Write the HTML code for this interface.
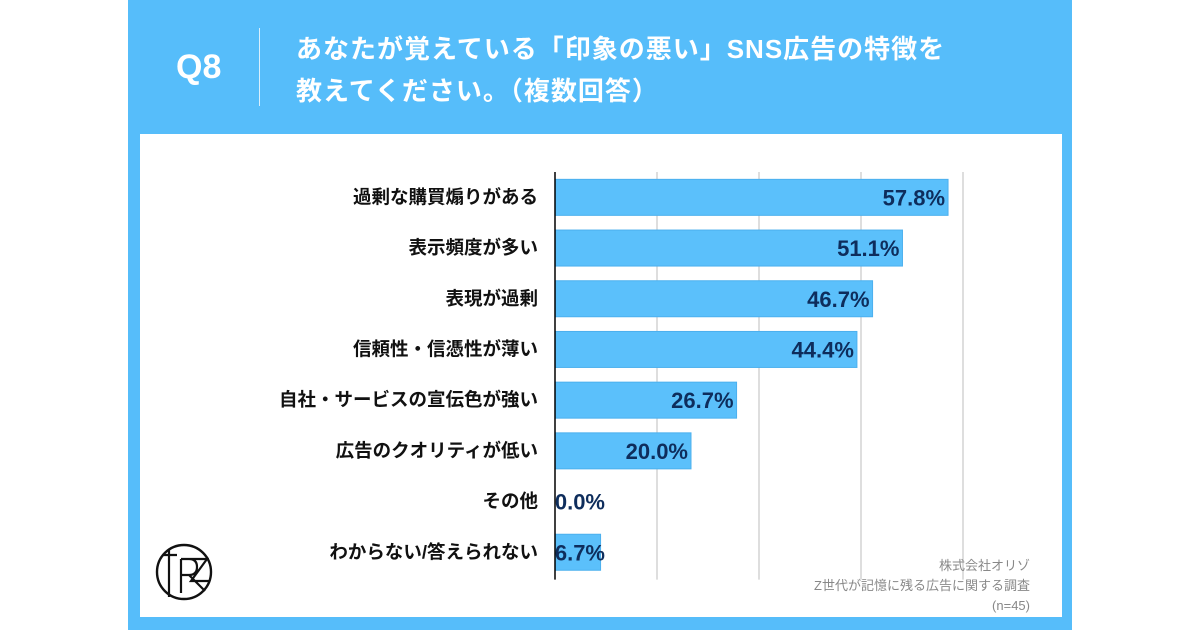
<!DOCTYPE html>
<html><head><meta charset="utf-8">
<style>
body{margin:0;width:1200px;height:630px;background:#fff;position:relative;overflow:hidden;font-family:"Liberation Sans","Noto Sans CJK JP",sans-serif;}
#blue{position:absolute;left:128px;top:0;width:944px;height:630px;background:#56bdfa;}
#inner{position:absolute;left:140px;top:134px;width:922px;height:483px;background:#fff;}
#q{position:absolute;left:176px;top:48px;color:#fff;font-size:34px;font-weight:bold;}
#sep{position:absolute;left:259px;top:28px;width:1px;height:78px;background:#d8effd;}
#title{position:absolute;left:296px;top:28px;color:#fff;font-size:26px;font-weight:bold;line-height:42px;letter-spacing:1px;}
#src{position:absolute;right:170px;top:556px;color:#888;font-size:13px;text-align:right;line-height:20px;}
</style></head><body>
<div id="blue"></div>
<div id="inner"></div>
<div id="q">Q8</div>
<div id="sep"></div>
<div id="title">あなたが覚えている「印象の悪い」SNS広告の特徴を<br>教えてください。（複数回答）</div>
<svg id="chart" width="1200" height="630" style="position:absolute;left:0;top:0"></svg>
<svg width="70" height="70" style="position:absolute;left:149px;top:537px" viewBox="0 0 70 70">
<circle cx="35" cy="35" r="27" fill="none" stroke="#111" stroke-width="2.4"/>
<path d="M14 18 H28 M20 12 V60 M32 22 V56 M32 22 H40 Q48 22 48 30 Q48 38 40 38 H32 M40 38 L56 54 M40 22 H58 L42 44 H60" fill="none" stroke="#111" stroke-width="2.2"/>
</svg>
<div id="src">株式会社オリゾ<br>Z世代が記憶に残る広告に関する調査<br>(n=45)</div>
<script>
const categories=["過剰な購買煽りがある","表示頻度が多い","表現が過剰","信頼性・信憑性が薄い","自社・サービスの宣伝色が強い","広告のクオリティが低い","その他","わからない/答えられない"];
const values=[57.8,51.1,46.7,44.4,26.7,20.0,0.0,6.7];
const tickValues=[15,30,45,60];
const svg=document.getElementById('chart');
const NS='http://www.w3.org/2000/svg';
const x0=555,xMax=60,pxPerUnit=6.8,top0=172,rowH=50.7,barH=36;
const xs=v=>x0+v*pxPerUnit;
const ys=i=>top0+i*rowH;
function mk(t,a){const e=document.createElementNS(NS,t);for(const k in a)e.setAttribute(k,a[k]);svg.appendChild(e);return e;}
const bottom=ys(categories.length)+2;
tickValues.forEach(t=>{const g=mk('line',{x1:xs(t),x2:xs(t),y1:top0,y2:bottom,stroke:'#c8c8c8','stroke-width':1.2});

});
categories.forEach((c,i)=>{
 const cy=ys(i)+rowH/2;
 const w=xs(values[i])-x0;
 if(w>0){const r=mk('rect',{x:x0,y:cy-barH/2,width:w,height:barH,fill:'#5bc0fb',stroke:'#4cb0ee','stroke-width':1});
 
 }
 const lb=mk('text',{x:538,y:cy+6,'text-anchor':'end','font-size':'18.5','font-weight':'bold',fill:'#111'});
 lb.textContent=c;
 
 
 const vx=Math.max(xs(values[i]),x0+53);
 const vt=mk('text',{x:vx-3,y:cy+8,'text-anchor':'end','font-size':'22','font-weight':'600',fill:'#0e2d5c'});
 vt.textContent=values[i].toFixed(1)+'%';
 
 
});
const ax=mk('line',{x1:x0,x2:x0,y1:top0,y2:bottom,stroke:'#000','stroke-width':1.5});


</script>
</body></html>
